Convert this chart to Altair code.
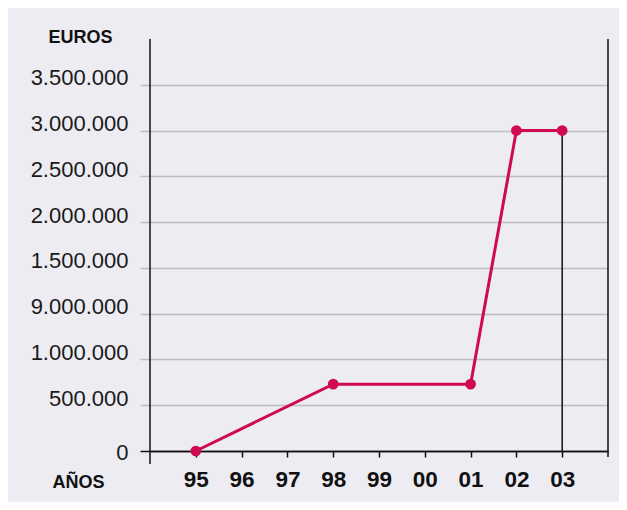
import json
import altair as alt
import pandas as pd

# ---- data ----
years = ["95", "96", "97", "98", "99", "00", "01", "02", "03"]
point_years = ["95", "98", "01", "02", "03"]
point_values = [0, 730000, 730000, 3500000, 3500000]
y_tick_values = [0, 500000, 1000000, 1500000, 2000000, 2500000, 3000000, 3500000, 4000000]
y_tick_labels = ["0", "500.000", "1.000.000", "9.000.000", "1.500.000",
                 "2.000.000", "2.500.000", "3.000.000", "3.500.000"]

df = pd.DataFrame({
    "idx": [years.index(y) for y in point_years],
    "value": point_values,
    "year": point_years,
})
drop_df = df.tail(1)[["idx", "value"]]
left_df = pd.DataFrame({"idx": [-1]})
right_df = pd.DataFrame({"idx": [len(years)]})

W, H = 458, 412
RED = "#cf0a50"
FONT = "Liberation Sans"

x_scale = alt.Scale(domain=[-1, len(years)], nice=False, zero=False)
y_scale = alt.Scale(domain=[0, 4500000], nice=False)

x_axis = alt.Axis(
    values=list(range(len(years))),
    labelExpr=json.dumps(years) + "[round(datum.value)]",
    title="AÑOS", titleX=-98, titleY=36, titleAlign="left", titleAnchor="start",
    titleBaseline="alphabetic", titleFont=FONT, titleFontSize=18, titleFontWeight="bold",
    titleColor="#111",
    labelFont=FONT, labelFontSize=22.5, labelFontWeight="bold", labelColor="#111",
    labelPadding=11, labelBaseline="top",
    tickSize=6, tickColor="#111", tickWidth=1.5,
    domainColor="#111", domainWidth=1.5, grid=False, zindex=0,
)

y_axis = alt.Axis(
    values=y_tick_values,
    labelExpr=json.dumps(y_tick_labels) + "[round(datum.value / 500000)]",
    title="EUROS", titleAngle=0, titleX=-102, titleY=3, titleAlign="left",
    titleBaseline="alphabetic", titleFont=FONT, titleFontSize=18, titleFontWeight="bold",
    titleColor="#111",
    labelFont=FONT, labelFontSize=22, labelColor="#1a1a1a", labelPadding=12,
    labelBaseline="middle",
    labelOffset=alt.condition("datum.value == 0", alt.value(1.5), alt.value(-7)),
    tickSize=10, tickWidth=1.5,
    tickColor=alt.condition("datum.value == 0", alt.value("#111"), alt.value("#bdbdbd")),
    grid=True, gridWidth=1.5,
    gridColor=alt.condition("datum.value == 0", alt.value("#111"), alt.value("#bdbdbd")),
    domain=False, zindex=0,
)

base_x = alt.X("idx:Q", scale=x_scale, axis=x_axis)

line = alt.Chart(df).mark_line(color=RED, strokeWidth=3).encode(
    x=base_x,
    y=alt.Y("value:Q", scale=y_scale, axis=y_axis),
)
points = alt.Chart(df).mark_circle(color=RED, opacity=1, size=115).encode(
    x=alt.X("idx:Q", scale=x_scale),
    y=alt.Y("value:Q", scale=y_scale),
)
drop = alt.Chart(drop_df).mark_rule(color="#111", strokeWidth=1.5).encode(
    x=alt.X("idx:Q", scale=x_scale),
    y=alt.Y("value:Q", scale=y_scale),
    y2=alt.datum(0),
)
left_line = alt.Chart(left_df).mark_rule(color="#111", strokeWidth=1.5).encode(
    x=alt.X("idx:Q", scale=x_scale),
    y=alt.value(0),
    y2=alt.value(H + 13),
)
right_line = alt.Chart(right_df).mark_rule(color="#111", strokeWidth=1.5).encode(
    x=alt.X("idx:Q", scale=x_scale),
    y=alt.value(0),
    y2=alt.value(H + 6),
)

chart = alt.layer(left_line, right_line, drop, line, points).properties(
    width=W, height=H,
    autosize=alt.AutoSizeParams(type="none"),
    padding={"left": 142, "top": 31, "right": 11, "bottom": 51},
    background="#edecf2",
).configure_view(stroke=None)

chart.save("out.html", embed_options={"renderer": "svg", "actions": False})
